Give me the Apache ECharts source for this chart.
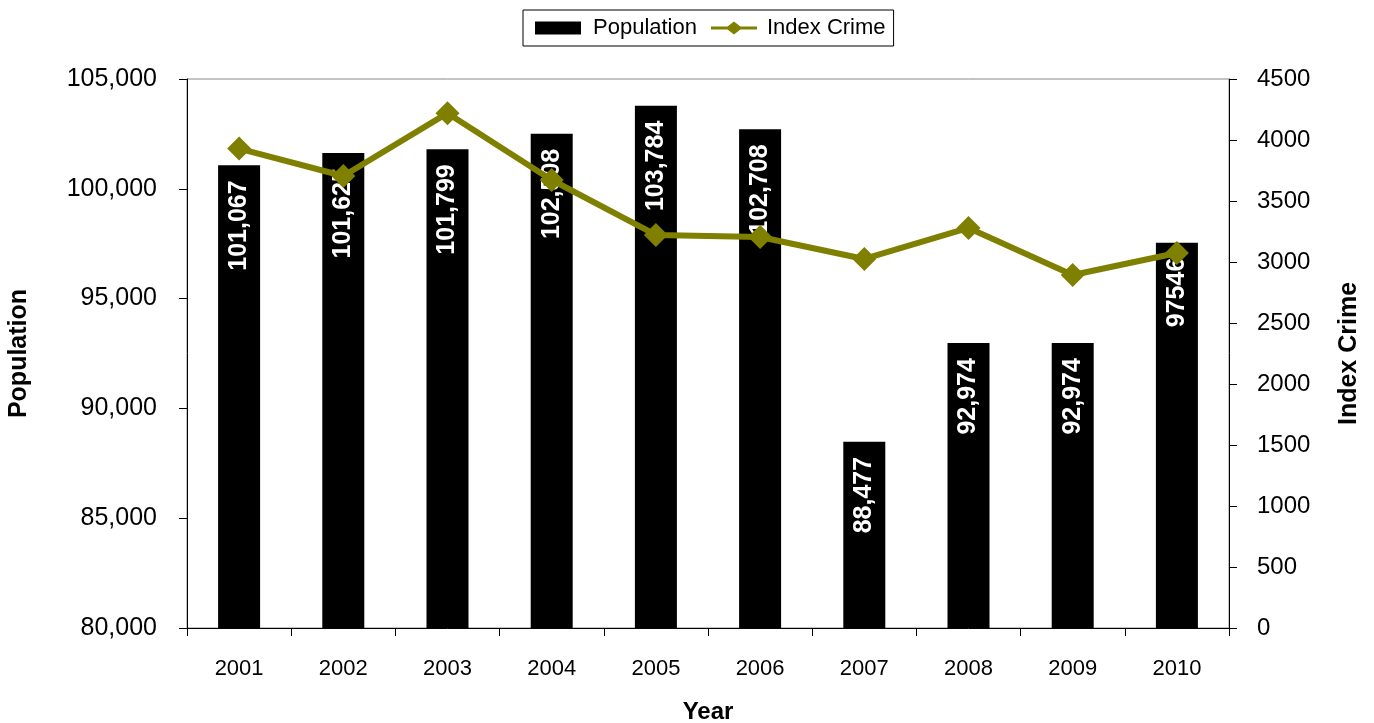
<!DOCTYPE html>
<html>
<head>
<meta charset="utf-8">
<script src="https://cdn.jsdelivr.net/npm/echarts@6/dist/echarts.min.js"></script>
<style>html,body{margin:0;padding:0;background:#fff;overflow:hidden}#c{width:1374px;height:723px}</style>
</head>
<body>
<div id="c"></div>
<script>
const years = ['2001','2002','2003','2004','2005','2006','2007','2008','2009','2010'];
const population = [101067, 101625, 101799, 102508, 103784, 102708, 88477, 92974, 92974, 97546];
const populationLabels = ['101,067','101,625','101,799','102,508','103,784','102,708','88,477','92,974','92,974','97546'];
const indexCrime = [3930, 3705, 4220, 3672, 3222, 3205, 3025, 3279, 2893, 3074];

const FONT = '"Liberation Sans", Arial, sans-serif';
const chart = echarts.init(document.getElementById('c'));
chart.setOption({
  animation: false,
  textStyle: { fontFamily: FONT, color: '#000' },
  legend: {
    left: 523, top: 10,
    padding: [7, 8, 7, 12],
    borderColor: '#000', borderWidth: 1,
    itemGap: 14, itemWidth: 46, itemHeight: 13,
    textStyle: { fontSize: 22, color: '#000', fontFamily: FONT, padding: [0, 0, 0, 7] },
    data: [
      { name: 'Population', icon: 'rect' },
      { name: 'Index Crime', icon: 'path://M0,5.5H18L25,0L32,5.5H50V8.5H32L25,14L18,8.5H0Z',
        itemStyle: { color: '#808000' }, textStyle: { padding: [0, 0, 0, 5] } }
    ]
  },
  grid: {
    left: 187, right: 145, top: 79, bottom: 95,
    outerBoundsMode: 'none',
    show: true, borderColor: '#888', borderWidth: 1, backgroundColor: 'transparent'
  },
  xAxis: {
    type: 'category', data: years,
    name: 'Year', nameLocation: 'middle', nameGap: 72,
    nameTextStyle: { fontSize: 24, fontWeight: 'bold', color: '#000', fontFamily: FONT },
    axisLine: { lineStyle: { color: '#000', width: 1 } },
    axisTick: { show: true, alignWithLabel: false, length: 8, lineStyle: { color: '#000' } },
    axisLabel: { fontSize: 22, margin: 30, color: '#000', fontFamily: FONT }
  },
  yAxis: [
    {
      type: 'value', min: 80000, max: 105000, interval: 5000,
      name: 'Population', nameLocation: 'middle', nameGap: 155, nameRotate: 90,
      nameTextStyle: { fontSize: 25, fontWeight: 'bold', color: '#000', fontFamily: FONT },
      axisLine: { show: true, lineStyle: { color: '#000', width: 1 } },
      axisTick: { show: true, length: 8, lineStyle: { color: '#000' } },
      splitLine: { show: false },
      axisLabel: { fontSize: 25, margin: 30, color: '#000', fontFamily: FONT,
        formatter: v => v.toLocaleString('en-US') }
    },
    {
      type: 'value', min: 0, max: 4500, interval: 500,
      name: 'Index Crime', nameLocation: 'middle', nameGap: 108, nameRotate: 90,
      nameTextStyle: { fontSize: 25, fontWeight: 'bold', color: '#000', fontFamily: FONT },
      axisLine: { show: true, lineStyle: { color: '#000', width: 1 } },
      axisTick: { show: true, length: 8, lineStyle: { color: '#000' } },
      splitLine: { show: false },
      axisLabel: { fontSize: 24, margin: 28, color: '#000', fontFamily: FONT,
        formatter: v => String(v) }
    }
  ],
  series: [
    {
      name: 'Population', type: 'bar', yAxisIndex: 0,
      data: population, barWidth: 42,
      itemStyle: { color: '#000' },
      label: {
        show: true, position: 'insideTop', distance: 15, rotate: 90,
        align: 'right', verticalAlign: 'middle',
        color: '#fff', fontSize: 25, fontWeight: 'bold', fontFamily: FONT,
        formatter: p => populationLabels[p.dataIndex]
      },
      z: 2
    },
    {
      name: 'Index Crime', type: 'line', yAxisIndex: 1,
      data: indexCrime,
      lineStyle: { color: '#808000', width: 6 },
      itemStyle: { color: '#808000' },
      symbol: 'diamond', symbolSize: 24,
      z: 3
    }
  ]
});
</script>
</body>
</html>
